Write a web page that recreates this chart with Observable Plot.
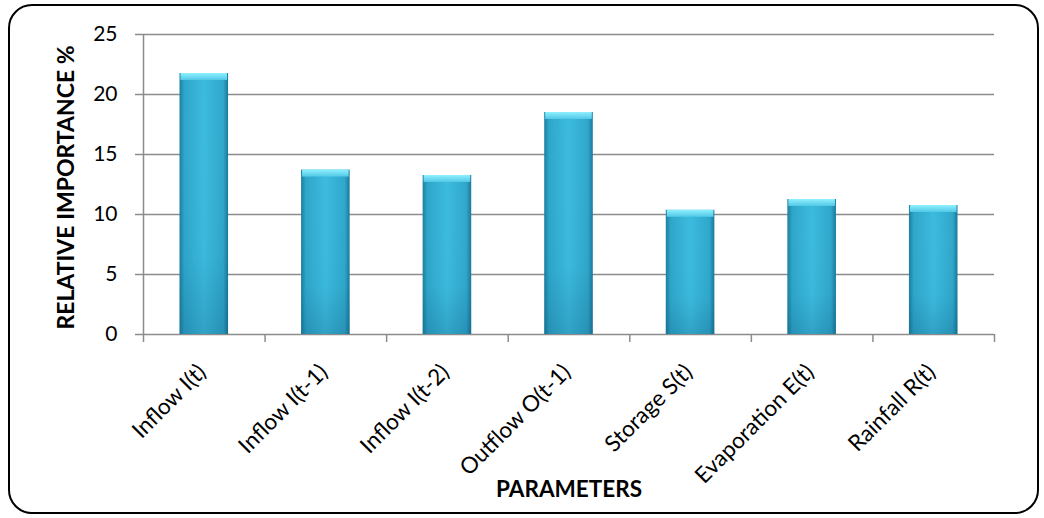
<!DOCTYPE html>
<html><head>
<meta charset="utf-8">
<script src="https://cdn.jsdelivr.net/npm/d3@7"></script>
<script src="https://cdn.jsdelivr.net/npm/@observablehq/plot@0.6"></script>
<style>
body{margin:0;background:#fff;}
#frame{position:absolute;left:8px;top:4px;width:1031px;height:510px;border:2px solid #000;border-radius:24px;box-sizing:border-box;}
#chart{position:absolute;left:0;top:0;}
</style></head><body>
<div id="frame"></div>
<div id="chart"></div>
<script>
const categories = ["Inflow I(t)", "Inflow I(t-1)", "Inflow I(t-2)", "Outflow O(t-1)", "Storage S(t)", "Evaporation E(t)", "Rainfall R(t)"];
const importance = [21.75, 13.7, 13.25, 18.5, 10.35, 11.25, 10.75];
const yTicks = [0, 5, 10, 15, 20, 25];
const xTitle = "PARAMETERS";
const yTitle = "RELATIVE IMPORTANCE %";

const data = categories.map((c, i) => ({cat: c, i, value: importance[i]}));
const gray = "#8c8c8c";

const plot = Plot.plot({
  width: 1044, height: 518,
  marginLeft: 143, marginRight: 50, marginTop: 34, marginBottom: 184,
  style: {fontFamily: "Lato", fontSize: "21px", background: "transparent", color: "#000"},
  x: {domain: [0, categories.length], axis: null},
  y: {domain: [0, 25], axis: null},
  marks: [
    Plot.gridY(yTicks, {stroke: gray, strokeOpacity: 1, strokeWidth: 1.5}),
    Plot.ruleX([0], {stroke: gray, strokeWidth: 1.5}),
    Plot.axisY({ticks: yTicks, tickSize: 8, tickPadding: 18, stroke: gray, strokeWidth: 1.5, fill: "#000", label: null, fontSize: 21}),
    Plot.axisX({ticks: d3.range(categories.length + 1), tickSize: 8, tickFormat: () => "", stroke: gray, strokeWidth: 1.5, label: null}),
    Plot.rectY(data, {x1: "i", x2: d => d.i + 1, y: "value", insetLeft: 36.5, insetRight: 36.5, fill: "url(#barGrad)"}),
    Plot.rectY(data, {x1: "i", x2: d => d.i + 1, y: "value", insetLeft: 36.5, insetRight: 36.5, fill: "url(#shadeGrad)"}),
    Plot.rectY(data, {x1: "i", x2: d => d.i + 1, y1: "value", y2: "value", insetLeft: 37.5, insetRight: 37.5, insetBottom: -7, fill: "url(#capGrad)"}),
    Plot.text(data, {x: d => d.i + 0.5, frameAnchor: "bottom", text: "cat", rotate: -45, textAnchor: "end", lineAnchor: "middle", dx: -2, dy: 34, fontSize: 22.5}),
    Plot.text([xTitle], {frameAnchor: "bottom", text: d => d, textAnchor: "middle", dy: 162, fontWeight: "bold", fontSize: 22.5}),
    Plot.text([yTitle], {frameAnchor: "left", text: d => d, textAnchor: "middle", dx: -77, dy: 3, rotate: -90, fontWeight: "bold", fontSize: 23})
  ]
});

const defs = d3.select(plot).insert("defs", ":first-child");
const g1 = defs.append("linearGradient").attr("id", "barGrad").attr("x1", 0).attr("x2", 1).attr("y1", 0).attr("y2", 0);
[[0, "#1b7f9f"], [0.1, "#2ea6ca"], [0.5, "#3cbbdf"], [0.9, "#2fa7cb"], [1, "#19799a"]].forEach(([o, c]) => g1.append("stop").attr("offset", o).attr("stop-color", c));
const g2 = defs.append("linearGradient").attr("id", "shadeGrad").attr("x1", 0).attr("x2", 0).attr("y1", 0).attr("y2", 1);
[[0, "#ffffff", 0], [0.7, "#004060", 0.02], [1, "#003050", 0.18]].forEach(([o, c, a]) => g2.append("stop").attr("offset", o).attr("stop-color", c).attr("stop-opacity", a));
const g3 = defs.append("linearGradient").attr("id", "capGrad").attr("x1", 0).attr("x2", 0).attr("y1", 0).attr("y2", 1);
[[0, "#8ff0ff"], [1, "#52c8e6"]].forEach(([o, c]) => g3.append("stop").attr("offset", o).attr("stop-color", c));

document.getElementById("chart").append(plot);
</script>
</body></html>
